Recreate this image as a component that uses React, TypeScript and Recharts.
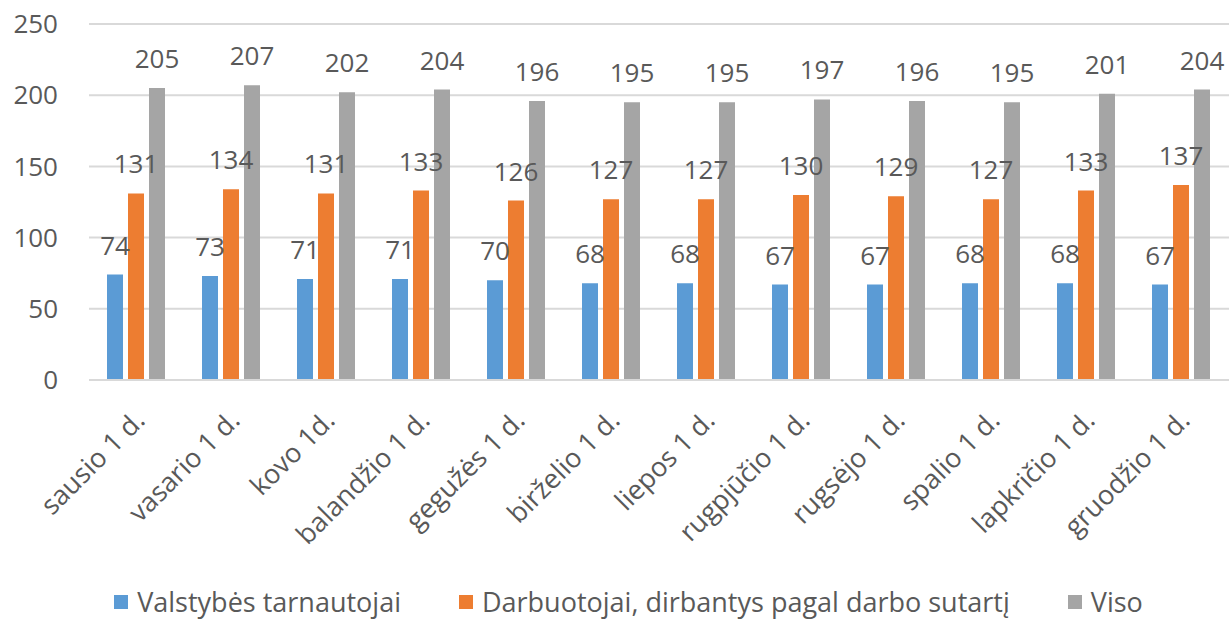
import { BarChart, Bar, XAxis, YAxis, CartesianGrid, Legend, LabelList } from "recharts";

const months = [
  "sausio 1 d.",
  "vasario 1 d.",
  "kovo 1d.",
  "balandžio 1 d.",
  "gegužės 1 d.",
  "birželio 1 d.",
  "liepos 1 d.",
  "rugpjūčio 1 d.",
  "rugsėjo 1 d.",
  "spalio 1 d.",
  "lapkričio 1 d.",
  "gruodžio 1 d.",
];
const seriesNames = ["Valstybės tarnautojai", "Darbuotojai, dirbantys pagal darbo sutartį", "Viso"];
const civilServants = [74, 73, 71, 71, 70, 68, 68, 67, 67, 68, 68, 67];
const contractEmployees = [131, 134, 131, 133, 126, 127, 127, 130, 129, 127, 133, 137];
const total = [205, 207, 202, 204, 196, 195, 195, 197, 196, 195, 201, 204];
const yTicks = [0, 50, 100, 150, 200, 250];

const data = months.map((month, i) => ({
  month,
  civil: civilServants[i],
  contract: contractEmployees[i],
  total: total[i],
}));

const FONT = "'Open Sans', sans-serif";
const TEXT = "#595959";

const MonthTick = ({ x, y, payload }: any) => (
  <g transform={`translate(${x + 10},${y + 42})`}>
    <text transform="rotate(-45)" textAnchor="end" fill={TEXT} fontSize={27} fontFamily={FONT}>
      {payload.value}
    </text>
  </g>
);

const LegendContent = ({ payload }: any) => {
  const items = [...(payload || [])].sort(
    (a: any, b: any) => seriesNames.indexOf(a.value) - seriesNames.indexOf(b.value)
  );
  return (
    <div
      style={{
        display: "flex",
        justifyContent: "center",
        alignItems: "center",
        height: 34,
        lineHeight: "34px",
        paddingLeft: 28,
        paddingBottom: 4,
        gap: 58,
        fontFamily: FONT,
        fontSize: 27,
        color: TEXT,
        whiteSpace: "nowrap",
        boxSizing: "content-box",
      }}
    >
      {items.map((entry: any) => (
        <span key={entry.value} style={{ display: "flex", alignItems: "center" }}>
          <span style={{ width: 14, height: 14, background: entry.color, marginRight: 9, display: "inline-block" }} />
          {entry.value}
        </span>
      ))}
    </div>
  );
};

export default function App() {
  return (
    <div style={{ position: "absolute", left: 0, top: 0, background: "#fff" }}>
      <BarChart
        width={1229}
        height={623}
        data={data}
        margin={{ top: 24, right: 0, left: 0, bottom: 0 }}
        barCategoryGap={18}
        barGap={5}
      >
        <CartesianGrid vertical={false} stroke="#d9d9d9" strokeWidth={2} />
        <XAxis
          dataKey="month"
          height={205}
          interval={0}
          tick={<MonthTick />}
          tickLine={false}
          tickSize={0}
          tickMargin={0}
          axisLine={{ stroke: "#d9d9d9", strokeWidth: 2 }}
        />
        <YAxis
          width={89}
          domain={[0, 250]}
          ticks={yTicks}
          tickLine={false}
          axisLine={false}
          tickSize={0}
          tickMargin={31}
          tick={{ fill: TEXT, fontSize: 26, fontFamily: FONT }}
        />
        <Legend verticalAlign="bottom" content={<LegendContent />} />
        <Bar dataKey="civil" name={seriesNames[0]} fill="#5b9bd5" isAnimationActive={false}>
          <LabelList dataKey="civil" position="top" offset={20} fill={TEXT} fontSize={26} fontFamily={FONT} />
        </Bar>
        <Bar dataKey="contract" name={seriesNames[1]} fill="#ed7d31" isAnimationActive={false}>
          <LabelList dataKey="contract" position="top" offset={20} fill={TEXT} fontSize={26} fontFamily={FONT} />
        </Bar>
        <Bar dataKey="total" name={seriesNames[2]} fill="#a5a5a5" isAnimationActive={false}>
          <LabelList dataKey="total" position="top" offset={20} fill={TEXT} fontSize={26} fontFamily={FONT} />
        </Bar>
      </BarChart>
    </div>
  );
}
